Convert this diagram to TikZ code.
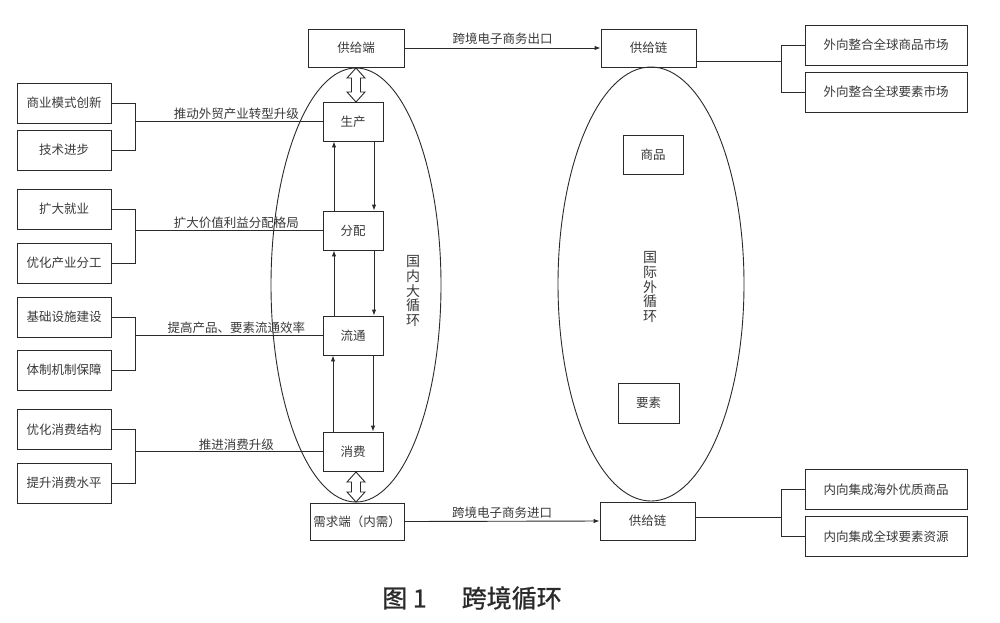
\documentclass[tikz,border=0pt]{standalone}
\usepackage{fontspec}
\setmainfont{Noto Sans CJK SC}
\newfontfamily\capfont[FakeBold=1]{Noto Sans CJK SC}
\usetikzlibrary{arrows.meta}
\definecolor{ink}{HTML}{2A2A2A}
\definecolor{txt}{HTML}{3A3A3A}
\newcommand\hollowdbl[3]{% x, top y, bottom y
  \draw[line,fill=white] (#1,#2) -- ++(9,10) -- ++(-4.5,0) -- (#1+4.5,#3-10) -- ++(4.5,0) -- (#1,#3) -- ++(-9,-10) -- ++(4.5,0) -- (#1-4.5,#2+10) -- ++(-4.5,0) -- cycle;}
\begin{document}
\begin{tikzpicture}[x=1pt,y=-1pt,
  line/.style={draw=ink,line width=0.9pt},
  box/.style={draw=ink,line width=0.9pt,rectangle,inner sep=0pt,text=txt,font=\fontsize{12.5}{14}\selectfont},
  lbox/.style={box,minimum width=94pt,minimum height=40pt},
  mbox/.style={box,minimum width=60pt,minimum height=39pt},
  rbox/.style={box,minimum width=162pt,minimum height=40pt},
  lab/.style={text=txt,font=\fontsize{12.5}{14}\selectfont,inner sep=1pt},
  vtext/.style={text=txt,font=\fontsize{14}{14.6}\selectfont,align=center,inner sep=0pt},
  arr/.style={line,-{Latex[length=6pt,width=4.5pt]}}]
\useasboundingbox (0,0) rectangle (1000,622);
\fill[white] (0,0) rectangle (1000,622);

% ellipses
\draw[line] (356,285) ellipse [x radius=85pt, y radius=217pt];
\draw[line] (651,284) ellipse [x radius=93pt, y radius=217pt];

% left boxes
\node[lbox] (L1) at (64,103) {商业模式创新};
\node[lbox] (L2) at (64,150) {技术进步};
\node[lbox] (L3) at (64,209) {扩大就业};
\node[lbox] (L4) at (64,263) {优化产业分工};
\node[lbox] (L5) at (64,317) {基础设施建设};
\node[lbox] (L6) at (64,370) {体制机制保障};
\node[lbox] (L7) at (64,429.5) {优化消费结构};
\node[lbox] (L8) at (64,483) {提升消费水平};

% middle boxes
\node[mbox] (sc) at (353,121.5) {生产};
\node[mbox] (fp) at (353,230.5) {分配};
\node[mbox] (lt) at (353,335.5) {流通};
\node[mbox] (xf) at (353,451.5) {消费};
\node[box,minimum width=96pt,minimum height=38pt] (gs) at (356,48) {供给端};
\node[box,minimum width=94pt,minimum height=37pt] (xq) at (357,521.5) {需求端（内需）};

% right side
\node[box,minimum width=95pt,minimum height=38pt] (g1) at (648.5,48) {供给链};
\node[box,minimum width=95pt,minimum height=38pt] (g2) at (647.5,521) {供给链};
\node[mbox] (sp) at (653,154.5) {商品};
\node[box,minimum width=61pt,minimum height=40pt] (ys) at (648.5,403) {要素};
\node[rbox] (R1) at (886,45) {外向整合全球商品市场};
\node[rbox] (R2) at (886,92) {外向整合全球要素市场};
\node[rbox] (R3) at (886,489.5) {内向集成海外优质商品};
\node[rbox] (R4) at (886,536.5) {内向集成全球要素资源};

% vertical texts
\node[vtext] (gn) at (413,291) {国\\内\\大\\循\\环};
\node[vtext] (gj) at (650,287) {国\\际\\外\\循\\环};

% left brackets
\foreach \a/\b/\t/\lbl in {L1/L2/sc/推动外贸产业转型升级, L3/L4/fp/扩大价值利益分配格局, L5/L6/lt/提高产品、要素流通效率, L7/L8/xf/推进消费升级}{
  \draw[line] (\a.east) -- ++(24,0) coordinate (j) -- (j |- \b.east) -- (\b.east);
  \draw[line] (j |- \t.west) -- node[lab,above,pos=0.54] {\lbl} (\t.west);
}

% right brackets
\coordinate (k1) at (781,61);
\draw[line] ([yshift=-13pt]g1.east) -- (k1);
\draw[line] (R1.west) -- (R1.west -| k1) -- (R2.west -| k1) -- (R2.west);
\coordinate (k2) at (781,517);
\draw[line] ([yshift=4pt]g2.east) -- (k2);
\draw[line] (R3.west) -- (R3.west -| k2) -- (R4.west -| k2) -- (R4.west);

% cross-border arrows
\draw[arr] (gs.east) -- node[lab,above,yshift=2pt] {跨境电子商务出口} (g1.west);
\draw[arr] (xq.east) -- node[lab,above,yshift=1pt] {跨境电子商务进口} (g2.west);

% inner cycle arrows
\draw[arr] ([xshift=-19pt]fp.north) -- ([xshift=-19pt]sc.south);
\draw[arr] ([xshift=21pt]sc.south) -- ([xshift=21pt]fp.north);
\draw[arr] ([xshift=-19pt]lt.north) -- ([xshift=-19pt]fp.south);
\draw[arr] ([xshift=21pt]fp.south) -- ([xshift=21pt]lt.north);
\draw[arr] ([xshift=-20pt]xf.north) -- ([xshift=-20pt]lt.south);
\draw[arr] ([xshift=20pt]lt.south) -- ([xshift=20pt]xf.north);

% hollow double arrows
\hollowdbl{356}{68}{102}
\hollowdbl{356}{472}{502}

% caption
\node[text=ink,font=\capfont\fontsize{25}{28}\selectfont,inner sep=0pt] (cap) at (472,598) {图 1\hspace{1.4em}跨境循环};
\end{tikzpicture}
\end{document}
